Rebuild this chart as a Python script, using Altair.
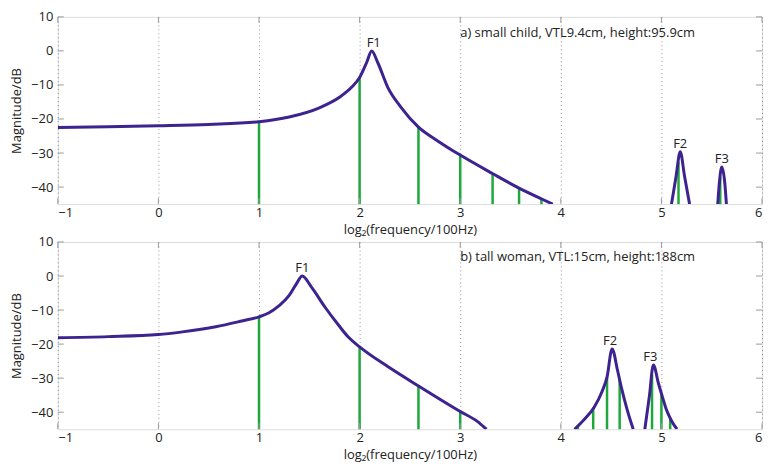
import altair as alt
import pandas as pd
import numpy as np

FONT = "Open Sans"
FS = 13
PURPLE = "#3d2390"
GREEN = "#1ea83c"
FRAME = "#9a9a9a"
W, H = 707, 188

# ---------------- panel a) small child ----------------
a_seg1_x = [-1, -0.5, 0, 0.5, 1.0, 1.3, 1.6, 1.8, 1.92, 2.0, 2.07, 2.12, 2.18, 2.28, 2.41, 2.585, 2.78, 3.0, 3.32, 3.585, 3.81, 3.92]
a_seg1_y = [-22.5, -22.3, -22.0, -21.6, -20.8, -19.4, -16.7, -13.6, -10.7, -7.8, -3.4, 0.0, -3.4, -10.7, -16.5, -22.4, -26.5, -30.6, -36.0, -40.3, -43.5, -45.0]
a_seg2_x = [5.10, 5.146, 5.187, 5.23, 5.28]
a_seg2_y = [-45.0, -36.8, -29.6, -36.8, -45.0]
a_seg3_x = [5.56, 5.576, 5.60, 5.63, 5.646]
a_seg3_y = [-45.0, -38.8, -34.1, -38.8, -45.0]
a_harm_hz = [200, 400, 600, 800, 1000, 1200, 1400, 3600, 4800]
a_harm_db = [-20.8, -7.8, -22.4, -30.6, -36.0, -40.3, -43.5, -32.6, -37.0]
a_lab = ["F1", "F2", "F3"]
a_lab_x = [2.14, 5.187, 5.60]
a_lab_y = [0.0, -29.6, -34.1]
a_note = "a) small child, VTL9.4cm, height:95.9cm"

# ---------------- panel b) tall woman ----------------
b_seg1_x = [-1, -0.5, 0, 0.24, 0.57, 0.83, 1.0, 1.1, 1.2, 1.3, 1.37, 1.43, 1.52, 1.655, 1.79, 1.89, 2.0, 2.28, 2.585, 3.0, 3.17, 3.26]
b_seg1_y = [-18.1, -17.8, -17.2, -16.4, -14.9, -13.2, -12.0, -10.8, -8.7, -5.7, -2.4, 0.0, -3.2, -9.1, -14.4, -18.0, -20.8, -26.6, -32.3, -39.8, -42.7, -45.0]
b_seg2_x = [4.137, 4.23, 4.33, 4.41, 4.46, 4.51, 4.563, 4.60, 4.66, 4.72]
b_seg2_y = [-45.0, -42.2, -38.6, -33.9, -29.6, -21.4, -27.6, -32.5, -39.3, -45.0]
b_seg3_x = [4.835, 4.88, 4.92, 4.97, 5.01, 5.05, 5.10, 5.155]
b_seg3_y = [-45.0, -35.4, -26.1, -31.5, -35.5, -39.3, -42.5, -45.0]
b_harm_hz = [200, 400, 600, 800, 1800, 2000, 2200, 2400, 3000, 3200, 3400]
b_harm_db = [-12.0, -20.8, -32.3, -39.8, -43.9, -38.6, -29.7, -30.5, -29.0, -34.5, -41.8]
b_lab = ["F1", "F2", "F3"]
b_lab_x = [1.43, 4.49, 4.89]
b_lab_y = [0.0, -21.4, -26.1]
b_note = "b) tall woman, VTL:15cm, height:188cm"

x_ticks = [-1, 0, 1, 2, 3, 4, 5, 6]
y_ticks = [-40, -30, -20, -10, 0, 10]
X_TITLE = "log\u2082(frequency/100Hz)"
Y_TITLE = "Magnitude/dB"

XS = alt.Scale(domain=[-1, 6], nice=False, zero=False)
YS = alt.Scale(domain=[-45, 10], nice=False, zero=False)
XAX = alt.Axis(values=x_ticks, title=X_TITLE, grid=True, gridDash=[1, 3], gridColor="#8a8a8a",
               gridOpacity=0.9, domain=False, ticks=False, labelPadding=2, titlePadding=4,
               labelOverlap=False, labelFont=FONT, titleFont=FONT, labelFontSize=FS,
               titleFontSize=FS, titleFontWeight="normal", labelColor="#222",
               titleColor="#222", format="d")
YAX = alt.Axis(values=y_ticks, title=Y_TITLE, grid=False, domain=False, ticks=False,
               labelPadding=5, titlePadding=7, labelOverlap=False, labelFont=FONT,
               titleFont=FONT, labelFontSize=FS, titleFontSize=FS, titleFontWeight="normal",
               labelColor="#222", titleColor="#222", format="d")


def X(f):
    return alt.X(f, scale=XS, axis=XAX)


def Y(f):
    return alt.Y(f, scale=YS, axis=YAX)


def panel(segs, harm_hz, harm_db, lab, lab_x, lab_y, note, note_y):
    rows = []
    for i, (sx, sy) in enumerate(segs):
        for xv, yv in zip(sx, sy):
            rows.append({"seg": i, "x": xv, "y": yv})
    curve = pd.DataFrame(rows)
    stems = pd.DataFrame({"x": np.log2(np.array(harm_hz) / 100.0), "y": harm_db, "y0": -45.0})
    labels = pd.DataFrame({"x": lab_x, "y": lab_y, "t": lab})
    notes = pd.DataFrame({"x": [3.0], "y": [note_y], "t": [note]})
    xt = pd.DataFrame({"v": x_ticks})
    yt = pd.DataFrame({"v": y_ticks})

    stem = alt.Chart(stems).mark_rule(color=GREEN, strokeWidth=2.5).encode(
        x=X("x:Q"), y=Y("y:Q"), y2="y0:Q"
    )
    line = alt.Chart(curve).mark_line(color=PURPLE, strokeWidth=3, interpolate="monotone", clip=True).encode(
        x=X("x:Q"), y=Y("y:Q"), detail="seg:N", order="x:Q"
    )
    flab = alt.Chart(labels).mark_text(font=FONT, fontSize=FS, color="#222", baseline="alphabetic", dy=-4).encode(
        x=X("x:Q"), y=Y("y:Q"), text="t:N"
    )
    ntxt = alt.Chart(notes).mark_text(font=FONT, fontSize=FS, color="#222", align="left", baseline="middle").encode(
        x=X("x:Q"), y=Y("y:Q"), text="t:N"
    )
    tl = alt.Chart(yt).mark_rule(color=FRAME, strokeWidth=1).encode(y=Y("v:Q"), x=alt.value(0), x2=alt.value(6))
    tr = alt.Chart(yt).mark_rule(color=FRAME, strokeWidth=1).encode(y=Y("v:Q"), x=alt.value(W - 6), x2=alt.value(W))
    tb = alt.Chart(xt).mark_rule(color=FRAME, strokeWidth=1).encode(x=X("v:Q"), y=alt.value(H - 6), y2=alt.value(H))
    tt = alt.Chart(xt).mark_rule(color=FRAME, strokeWidth=1).encode(x=X("v:Q"), y=alt.value(0), y2=alt.value(6))
    return alt.layer(stem, line, flab, ntxt, tl, tr, tb, tt).properties(width=W, height=H)


top = panel([(a_seg1_x, a_seg1_y), (a_seg2_x, a_seg2_y), (a_seg3_x, a_seg3_y)],
            a_harm_hz, a_harm_db, a_lab, a_lab_x, a_lab_y, a_note, 5.2)
bottom = panel([(b_seg1_x, b_seg1_y), (b_seg2_x, b_seg2_y), (b_seg3_x, b_seg3_y)],
               b_harm_hz, b_harm_db, b_lab, b_lab_x, b_lab_y, b_note, 5.6)

chart = alt.vconcat(top, bottom, spacing=38, bounds="flush").properties(
    padding={"left": 2, "top": 1, "right": 2, "bottom": 0}
).configure_view(stroke=FRAME, strokeWidth=1).configure(background="white")

chart.save("out.html", embed_options={"renderer": "svg", "actions": False})
